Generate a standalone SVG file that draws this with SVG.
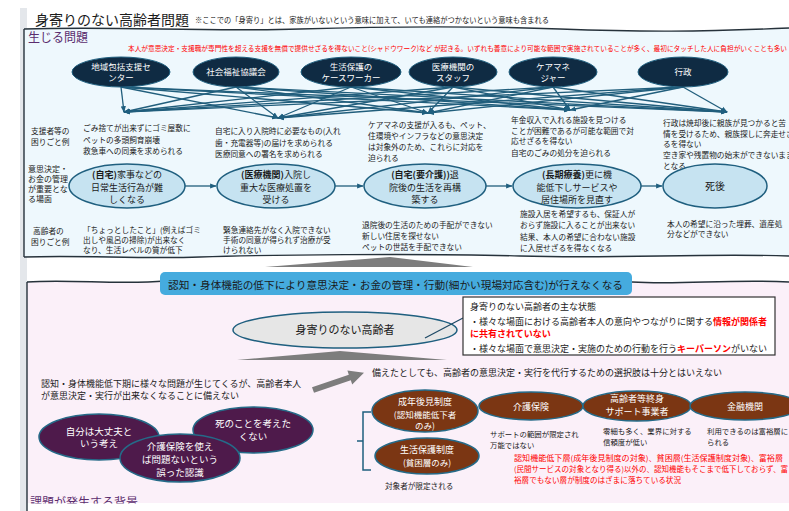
<svg xmlns="http://www.w3.org/2000/svg" width="789" height="511" viewBox="0 0 789 511">
<defs>
<marker id="ah" viewBox="0 0 10 10" refX="9" refY="5" markerWidth="5" markerHeight="5" orient="auto"><path d="M0,1 L10,5 L0,9 z" fill="#1f5f7f"/></marker>
</defs>
<style>
text{font-family:"Noto Sans CJK JP","Noto Sans",sans-serif;fill:#1a1a1a;font-size:7.7px}
.c{text-anchor:middle}
.w{fill:#fff}
.red{fill:#ff0000}
.b{font-weight:bold}
.dk{fill:#0f2b43;stroke:#1f5f7f;stroke-width:1}
.pr{fill:#c6e3f1;stroke:#1f5f7f;stroke-width:1.5}
.pu{fill:#4e1a4b;stroke:#256a88;stroke-width:1.5}
.br{fill:#7b3613;stroke:#256a88;stroke-width:1.5}
.ln{stroke:#215e7c;stroke-width:1.3;fill:none;marker-end:url(#ah)}
.hd{fill:#5b2d6e;font-size:12px}
.f8{font-size:8px}
.f85{font-size:8.5px}
.f9{font-size:9px}
.f95{font-size:9.5px}
.bd{fill:none;stroke:#26323b;stroke-width:1.4}
</style>
<rect width="789" height="511" fill="#fff"/>
<rect x="20" y="8" width="7" height="503" fill="#e4e7eb"/>

<!-- top panel -->
<g id="panel-top">
<path d="M24,29 C120,26 200,32 300,29 S480,26 560,29 S700,32 789,28 L789,256 C700,253 620,259 520,256 S320,253 200,257 S80,255 24,257 Z" fill="#eef8fd"/>
<path class="bd" d="M24,29 C120,26 200,32 300,29 S480,26 560,29 S700,32 789,28"/>
<path class="bd" d="M24,29 L24,257"/>
<path class="bd" d="M24,257 C80,255 140,259 200,257 S420,253 520,256 S700,253 789,256"/>
</g>

<text x="35" y="25" style="font-size:14px">身寄りのない高齢者問題</text>
<text x="195" y="23" style="font-size:7.8px" textLength="354" lengthAdjust="spacingAndGlyphs">※ここでの「身寄り」とは、家族がいないという意味に加えて、いても連絡がつかないという意味も含まれる</text>
<text x="28" y="42" class="hd">生じる問題</text>
<text x="128" y="51" class="red" style="font-size:7px" textLength="659" lengthAdjust="spacingAndGlyphs">本人が意思決定・支援職が専門性を超える支援を無償で提供せざるを得ないこと(シャドウワーク)など が起きる。いずれも善意により可能な範囲で実施されていることが多く、最初にタッチした人に負担がいくことも多い</text>

<!-- connectors -->
<g id="connectors">
<path class="ln" d="M121,87 L124,112"/><path class="ln" d="M121,87 L278,118"/><path class="ln" d="M121,87 L428,113"/><path class="ln" d="M121,87 L570,110"/><path class="ln" d="M121,87 L727,112"/>
<path class="ln" d="M236,87 L124,112"/><path class="ln" d="M236,87 L278,118"/><path class="ln" d="M236,87 L428,113"/><path class="ln" d="M236,87 L570,110"/><path class="ln" d="M236,87 L727,112"/>
<path class="ln" d="M351,87 L124,112"/><path class="ln" d="M351,87 L278,118"/><path class="ln" d="M351,87 L428,113"/><path class="ln" d="M351,87 L570,110"/><path class="ln" d="M351,87 L727,112"/>
<path class="ln" d="M453,87 L124,112"/><path class="ln" d="M453,87 L278,118"/><path class="ln" d="M453,87 L428,113"/><path class="ln" d="M453,87 L570,110"/><path class="ln" d="M453,87 L727,112"/>
<path class="ln" d="M553,87 L124,112"/><path class="ln" d="M553,87 L278,118"/><path class="ln" d="M553,87 L428,113"/><path class="ln" d="M553,87 L570,110"/><path class="ln" d="M553,87 L727,112"/>
<path class="ln" d="M683,87 L124,112"/><path class="ln" d="M683,87 L278,118"/><path class="ln" d="M683,87 L428,113"/><path class="ln" d="M683,87 L570,110"/><path class="ln" d="M683,87 L727,112"/>
<path class="ln" d="M185,186 L216,186"/>
<path class="ln" d="M335,186 L363,186"/>
<path class="ln" d="M486,186 L512,186"/>
<path class="ln" d="M641,186 L662,186"/>
</g>

<!-- supporter nodes -->
<g id="n-chiiki"><ellipse class="dk" cx="121" cy="72" rx="49" ry="15"/><text class="c w f85" x="121" y="70">地域包括支援セ</text><text class="c w f85" x="121" y="81">ンター</text></g>
<g id="n-shakyo"><ellipse class="dk" cx="236" cy="72" rx="43" ry="15"/><text class="c w f85" x="236" y="75">社会福祉協議会</text></g>
<g id="n-seiho"><ellipse class="dk" cx="351" cy="72" rx="50" ry="15"/><text class="c w f85" x="351" y="70">生活保護の</text><text class="c w f85" x="351" y="81">ケースワーカー</text></g>
<g id="n-iryo"><ellipse class="dk" cx="453" cy="72" rx="44" ry="15"/><text class="c w f85" x="453" y="70">医療機関の</text><text class="c w f85" x="453" y="81">スタッフ</text></g>
<g id="n-caremane"><ellipse class="dk" cx="553" cy="72" rx="44" ry="15"/><text class="c w f85" x="553" y="70">ケアマネ</text><text class="c w f85" x="553" y="81">ジャー</text></g>
<g id="n-gyosei"><ellipse class="dk" cx="683" cy="72" rx="45" ry="15"/><text class="c w f85" x="683" y="75">行政</text></g>

<!-- row labels -->
<text x="31" y="134">支援者等の</text>
<text x="31" y="145">困りごと例</text>
<text x="28" y="172" class="f8">意思決定・</text>
<text x="28" y="182" class="f8">お金の管理</text>
<text x="28" y="192" class="f8">が重要とな</text>
<text x="28" y="202" class="f8">る場面</text>
<text x="33" y="234">高齢者の</text>
<text x="31" y="245">困りごと例</text>

<!-- supporter problems -->
<g id="sup-problems">
<text x="83" y="131">ごみ捨てが出来ずにゴミ屋敷に</text>
<text x="83" y="142.5">ペットの多頭飼育崩壊</text>
<text x="83" y="154">救急車への同乗を求められる</text>
<text x="215" y="134">自宅に入り入院時に必要なもの(入れ</text>
<text x="215" y="145.5">歯・充電器等)の届けを求められる</text>
<text x="215" y="157">医療同意への署名を求められる</text>
<text x="368" y="128">ケアマネの支援が入るも、ペット、</text>
<text x="368" y="139">住環境やインフラなどの意思決定</text>
<text x="368" y="150">は対象外のため、これらに対応を</text>
<text x="368" y="161">迫られる</text>
<text x="511" y="123">年金収入で入れる施設を見つける</text>
<text x="511" y="134">ことが困難であるが可能な範囲で対</text>
<text x="511" y="144">応せざるを得ない</text>
<text x="511" y="156">自宅のごみの処分を迫られる</text>
<text x="663" y="126">行政は焼却後に親族が見つかると苦</text>
<text x="663" y="137">情を受けるため、親族探しに奔走せざ</text>
<text x="663" y="147">るを得ない</text>
<text x="663" y="158">空き家や残置物の始末ができないまま</text>
<text x="663" y="169">となる</text>
</g>

<!-- process nodes -->
<g id="p-jitaku"><ellipse class="pr" cx="127" cy="186" rx="58" ry="22"/><text class="c f9" x="127" y="178"><tspan class="b">(自宅)</tspan>家事などの</text><text class="c f9" x="127" y="191">日常生活行為が難</text><text class="c f9" x="127" y="203">しくなる</text></g>
<g id="p-iryo"><ellipse class="pr" cx="276" cy="186" rx="59" ry="22"/><text class="c f9" x="276" y="178"><tspan class="b">(医療機関)</tspan>入院し</text><text class="c f9" x="276" y="191">重大な医療処置を</text><text class="c f9" x="276" y="203">受ける</text></g>
<g id="p-kaigo"><ellipse class="pr" cx="425" cy="186" rx="61" ry="22"/><text class="c f9" x="425" y="178"><tspan class="b">(自宅(要介護))</tspan>退</text><text class="c f9" x="425" y="191">院後の生活を再構</text><text class="c f9" x="425" y="203">築する</text></g>
<g id="p-choki"><ellipse class="pr" cx="577" cy="186" rx="64" ry="22"/><text class="c f9" x="577" y="178"><tspan class="b">(長期療養)</tspan>更に機</text><text class="c f9" x="577" y="191">能低下しサービスや</text><text class="c f9" x="577" y="203">居住場所を見直す</text></g>
<g id="p-shigo"><ellipse class="pr" cx="715" cy="186" rx="52" ry="22"/><text class="c" x="715" y="190" style="font-size:10px">死後</text></g>

<!-- elderly problems -->
<g id="eld-problems">
<text x="83" y="233">「ちょっとしたこと」(例えばゴミ</text>
<text x="83" y="243">出しや風呂の掃除)が出来なく</text>
<text x="83" y="253">なり、生活レベルの質が低下</text>
<text x="223" y="233">緊急連絡先がなく入院できない</text>
<text x="223" y="243">手術の同意が得られず治療が受</text>
<text x="223" y="253">けられない</text>
<text x="362" y="228">退院後の生活のための手配ができない</text>
<text x="362" y="239">新しい住居を探せない</text>
<text x="362" y="250">ペットの世話を手配できない</text>
<text x="520" y="217">施設入居を希望するも、保証人が</text>
<text x="520" y="228">おらず施設に入ることが出来ない</text>
<text x="520" y="240">結果、本人の希望に合わない施設</text>
<text x="520" y="251">に入居せざるを得なくなる</text>
<text x="667" y="227">本人の希望に沿った埋葬、遺産処</text>
<text x="667" y="237">分などができない</text>
</g>

<polygon points="265,267 390,257 473,267" fill="#7d7d7d"/>

<!-- lower panel -->
<g id="panel-bottom">
<path d="M27,282 C70,279 120,285 165,281 L632,281 C680,284 730,279 789,282 L789,503 L27,503 Z" fill="#fbf0f9"/>
<path class="bd" d="M27,282 C70,279 120,285 165,281"/>
<path class="bd" d="M632,282 C680,285 730,279 789,282"/>
<path class="bd" d="M27,282 L27,511"/>
</g>

<g id="banner"><rect x="160" y="272" width="472" height="23" rx="5" fill="#45abde"/><text x="168" y="289" style="font-size:10.5px" textLength="455" lengthAdjust="spacingAndGlyphs">認知・身体機能の低下により意思決定・お金の管理・行動(細かい現場対応含む)が行えなくなる</text></g>

<g id="n-elderly"><ellipse cx="345" cy="330" rx="112" ry="18" fill="#e6e6e6" stroke="#1f5f7f" stroke-width="1.5"/><text class="c" x="345" y="334" style="font-size:11px">身寄りのない高齢者</text></g>
<line x1="425" y1="338" x2="463" y2="318" stroke="#1f4a66" stroke-width="1.3"/>
<polygon points="237,360 340,351 447,360" fill="#7d7d7d"/>

<g id="status-box">
<rect x="463" y="297" width="312" height="58" fill="#fff" stroke="#333" stroke-width="1.2"/>
<text x="470" y="310" class="f9">身寄りのない高齢者の主な状態</text>
<text x="470" y="325" class="f9">・様々な場面における高齢者本人の意向やつながりに関する<tspan class="red b">情報が関係者</tspan></text>
<text x="470" y="337" class="f9 red b">に共有されていない</text>
<text x="470" y="352" class="f9">・様々な場面で意思決定・実施のための行動を行う<tspan class="red b">キーパーソン</tspan>がいない</text>
</g>

<text x="41" y="387" class="f9">認知・身体機能低下期に様々な問題が生じてくるが、高齢者本人</text>
<text x="41" y="399" class="f9">が意思決定・実行が出来なくなることに備えない</text>
<polygon points="312,387.2 348.8,374.7 347.4,370.4 364,372.7 352.2,384.6 350.8,380.3 314,392.8" fill="#7d7d7d"/>
<text x="372" y="376" class="f9">備えたとしても、高齢者の意思決定・実行を代行するための選択肢は十分とはいえない</text>

<!-- background beliefs -->
<g id="b-daijobu"><ellipse class="pu" cx="99" cy="437" rx="60" ry="23"/><text class="c w f95" x="99" y="435">自分は大丈夫と</text><text class="c w f95" x="99" y="447">いう考え</text></g>
<g id="b-shi"><ellipse class="pu" cx="253" cy="430" rx="60" ry="23"/><text class="c w f95" x="253" y="427">死のことを考えた</text><text class="c w f95" x="253" y="440">くない</text></g>
<g id="b-kaigo"><ellipse class="pu" cx="180" cy="458" rx="60" ry="24"/><text class="c w f95" x="180" y="450">介護保険を使え</text><text class="c w f95" x="180" y="463">ば問題ないという</text><text class="c w f95" x="180" y="476">誤った認識</text></g>

<path d="M371,412 L363,412 L363,470 L371,470 M363,441 L357,441" fill="none" stroke="#1f5f7f" stroke-width="1.5"/>

<!-- options -->
<g id="o-kouken"><ellipse class="br" cx="425" cy="411" rx="53" ry="21"/><text class="c w f9" x="425" y="405">成年後見制度</text><text class="c w f85" x="425" y="418">(認知機能低下者</text><text class="c w f85" x="425" y="429">のみ)</text></g>
<g id="o-seiho"><ellipse class="br" cx="427" cy="456" rx="52" ry="18"/><text class="c w f9" x="427" y="453">生活保護制度</text><text class="c w f85" x="427" y="466">(貧困層のみ)</text></g>
<g id="o-kaigo"><ellipse class="br" cx="531" cy="406" rx="52" ry="14"/><text class="c w f9" x="531" y="410">介護保険</text></g>
<g id="o-shushin"><ellipse class="br" cx="637" cy="406" rx="54" ry="15"/><text class="c w f9" x="637" y="402">高齢者等終身</text><text class="c w f9" x="637" y="415">サポート事業者</text></g>
<g id="o-kinyu"><ellipse class="br" cx="745" cy="406" rx="55" ry="14"/><text class="c w f9" x="745" y="410">金融機関</text></g>

<text x="490" y="437" style="font-size:7.4px">サポートの範囲が限定され</text>
<text x="490" y="448" style="font-size:7.4px">万能ではない</text>
<text x="603" y="434" style="font-size:7.4px">零細も多く、業界に対する</text>
<text x="603" y="445" style="font-size:7.4px">信頼度が低い</text>
<text x="707" y="434" style="font-size:7.4px">利用できるのは富裕層に</text>
<text x="707" y="445" style="font-size:7.4px">られる</text>
<text x="385" y="489" style="font-size:7.6px">対象者が限定される</text>
<text x="514" y="461" class="red" style="font-size:7.6px" textLength="269" lengthAdjust="spacingAndGlyphs">認知機能低下層(成年後見制度の対象)、貧困層(生活保護制度対象)、富裕層</text>
<text x="514" y="472" class="red" style="font-size:7.6px" textLength="274" lengthAdjust="spacingAndGlyphs">(民間サービスの対象となり得る)以外の、認知機能もそこまで低下しておらず、富</text>
<text x="514" y="483" class="red" style="font-size:7.6px">裕層でもない層が制度のはざまに落ちている状況</text>

<text x="30" y="507" class="hd">課題が発生する背景</text>
<rect x="29" y="503.5" width="760" height="8" fill="#fff"/>
</svg>
